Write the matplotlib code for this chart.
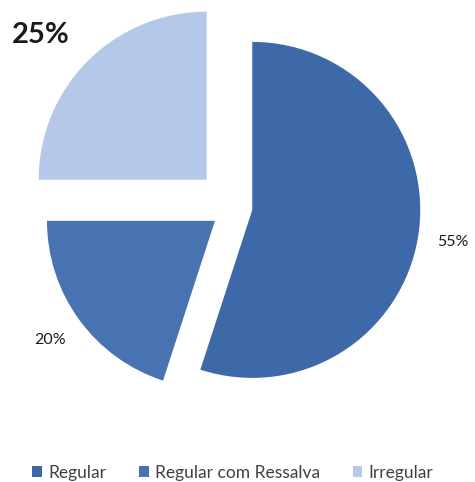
import numpy as np
import matplotlib.pyplot as plt

categorias = ['Regular', 'Regular com Ressalva', 'Irregular']
valores = [55, 20, 25]
cores = ['#3e69a8', '#4873b3', '#b6c8ea']
explode = [0.11, 0.14, 0.23]  # fracao do raio

plt.rcParams['font.family'] = ['Lato', 'DejaVu Sans']

raio = 168
fig = plt.figure(figsize=(4.75, 4.82), dpi=100)
ax = fig.add_axes([0, 0, 1, 1])

wedges, textos, pcts = ax.pie(valores, colors=cores,
                              explode=[e * raio for e in explode],
                              startangle=90, counterclock=False,
                              center=(234, 275), radius=raio,
                              autopct='%1.0f%%', pctdistance=1.21,
                              wedgeprops=dict(linewidth=0))

for t in pcts:
    t.set_fontsize(11.5)
    t.set_color('#1a1a1a')

# rotulo do Irregular maior e em negrito, no canto superior esquerdo
cx, cy = wedges[2].center
ang = np.deg2rad(139)
pcts[2].set_position((cx + 1.31 * raio * np.cos(ang), cy + 1.31 * raio * np.sin(ang)))
pcts[2].set_fontsize(21)
pcts[2].set_fontweight('bold')

ax.set_xlim(0, 475)
ax.set_ylim(0, 482)
ax.set_aspect('equal')
ax.axis('off')

ax.legend(wedges, categorias, loc='lower center', bbox_to_anchor=(0.49, -0.03),
          ncol=3, frameon=False, fontsize=12.5, handlelength=0.55,
          handleheight=0.55, handletextpad=0.35, columnspacing=1.9,
          labelcolor='#404040')

fig.savefig('out.png', dpi=100)
